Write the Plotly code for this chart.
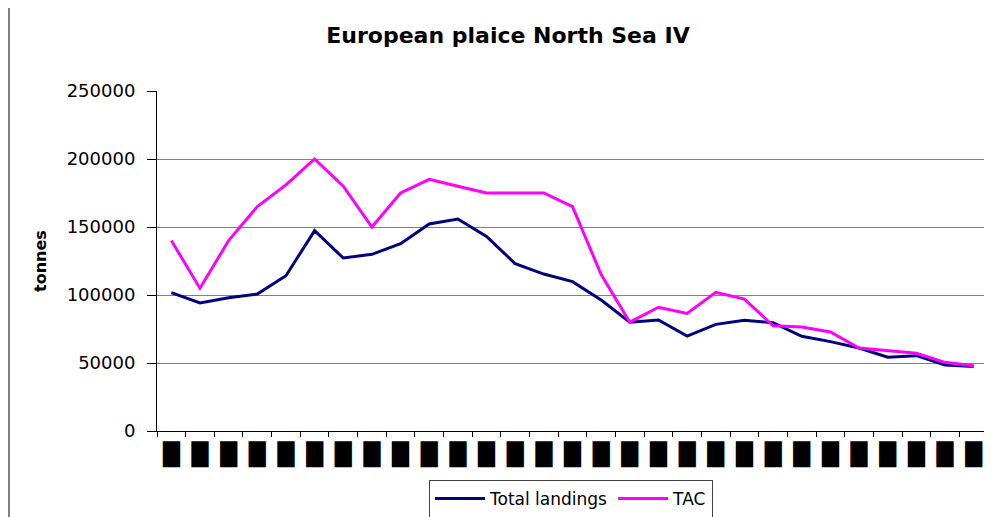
import plotly.graph_objects as go

years = list(range(1977, 2006))
year_labels = ["█"] * len(years)
total_landings = [101700, 94100, 98000, 100700, 114200, 147300, 127200, 129900, 137700, 152200,
                  155900, 143100, 123000, 115400, 109800, 96300, 80000, 81600, 69800, 78400,
                  81400, 79600, 69600, 65700, 61000, 54200, 55400, 48500, 47500]
tac = [140000, 105000, 140000, 165000, 181000, 200000, 180000, 150000, 175000, 185000,
       180000, 175000, 175000, 175000, 165000, 115000, 80000, 91000, 86500, 102000,
       97000, 77400, 76500, 72800, 61000, 59300, 57100, 50500, 48000]

# page has an 8px body margin: figure coordinates = page coordinates - 8
OFF = 8
W, H = 992 - OFF, 517 - OFF
L, T = 157 - OFF, 91 - OFF
B = H - (431 - OFF)
R = W - (988 - OFF)
pw = W - L - R
ph = H - T - B
FONT = "DejaVu Sans, Liberation Sans, Arial, sans-serif"

fig = go.Figure()
fig.add_trace(go.Scatter(x=[str(y) for y in years], y=total_landings, name="Total landings",
                         mode="lines", line=dict(color="#000080", width=3)))
fig.add_trace(go.Scatter(x=[str(y) for y in years], y=tac, name="TAC",
                         mode="lines", line=dict(color="#FF00FF", width=3)))

fig.update_layout(
    width=W, height=H,
    margin=dict(l=L, r=R, t=T, b=B, autoexpand=False),
    plot_bgcolor="white", paper_bgcolor="white",
    font=dict(family=FONT, color="black"),
    title=dict(text="<b>European plaice North Sea IV</b>", font=dict(size=22),
               x=(508 - OFF) / W, xref="container", xanchor="center",
               y=1 - (35 - OFF) / H, yref="container", yanchor="middle"),
    legend=dict(orientation="h", x=(571 - OFF) / W, xref="container", xanchor="center",
                y=1 - (480 - OFF) / H, yref="container", yanchor="top",
                bordercolor="#404040", borderwidth=1, font=dict(size=17),
                itemwidth=50, tracegroupgap=0),
    showlegend=True,
)
fig.update_xaxes(type="category", range=[-0.5, len(years) - 0.5], automargin=False,
                 tickmode="array", tickvals=[str(y) for y in years], ticktext=year_labels,
                 tickson="boundaries", ticks="outside", ticklen=5, tickcolor="black",
                 showline=True, linecolor="black", linewidth=1, showgrid=False,
                 tickangle=0, ticklabelstandoff=4,
                 tickfont=dict(family="DejaVu Sans", size=22, color="black"))
fig.update_yaxes(range=[0, 250000], dtick=50000, tickformat="d", automargin=False,
                 ticks="outside", ticklen=9, tickcolor="black",
                 showline=True, linecolor="black", linewidth=1,
                 showgrid=True, gridcolor="#808080", gridwidth=1, zeroline=False,
                 tickfont=dict(size=18), ticklabelstandoff=8,
                 title=dict(text="<b>tonnes</b>", font=dict(size=16), standoff=16))

# outer chart border lines
fig.add_shape(type="line", xref="paper", yref="paper",
              x0=(1 - L) / pw, x1=(1 - L) / pw, y0=-B / ph, y1=(ph + T) / ph,
              line=dict(color="#808080", width=2))
fig.add_shape(type="line", xref="paper", yref="paper",
              x0=1, x1=1, y0=-B / ph, y1=(ph + T) / ph,
              line=dict(color="#808080", width=2))

fig.write_html("out.html")
